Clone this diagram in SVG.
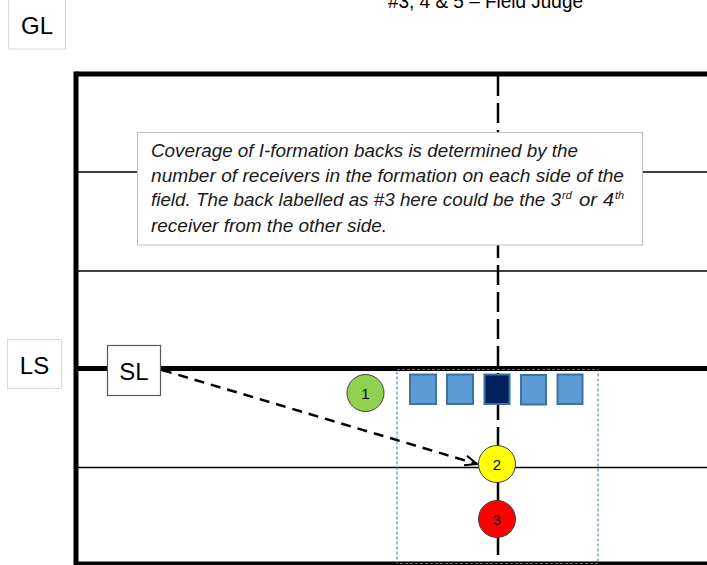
<svg xmlns="http://www.w3.org/2000/svg" width="707" height="565" viewBox="0 0 707 565">
  <defs>
    <style>
      .lbl { font-family: "Liberation Sans", Arial, sans-serif; fill: #000; }
      .tag { fill: #fff; stroke: #d9d9d9; stroke-width: 1; }
      .thick { stroke: #000; stroke-width: 5; fill: none; }
      .thin { stroke: #000; stroke-width: 1.6; fill: none; }
      .note { font-family: "Liberation Sans", Arial, sans-serif; font-style: italic; font-size: 17.5px; fill: #1a1a1a; }
      .sup { font-family: "Liberation Sans", Arial, sans-serif; font-style: italic; font-size: 11px; fill: #1a1a1a; }
      .lineman { fill: #5b9bd5; stroke: #41719c; stroke-width: 2; }
      .center { fill: #002060; stroke: #41719c; stroke-width: 2; }
      .back { stroke: #404040; stroke-width: 1; }
      .num { font-family: "Liberation Sans", Arial, sans-serif; font-size: 15px; fill: #000; text-anchor: middle; }
    </style>
    <marker id="openArrow" viewBox="0 0 14 12" refX="13" refY="6" markerWidth="14" markerHeight="12" markerUnits="userSpaceOnUse" orient="auto">
      <path d="M1,1 L13,6 L1,11" fill="none" stroke="#000" stroke-width="2" stroke-dasharray="none"/>
    </marker>
  </defs>

  <rect width="707" height="565" fill="#fff"/>

  <!-- caption, partly above the top edge -->
  <text class="lbl" x="388" y="7.5" font-size="20" textLength="195" lengthAdjust="spacingAndGlyphs">#3, 4 &amp; 5 – Field Judge</text>

  <!-- field markings -->
  <g id="field">
    <line class="thin" x1="76" y1="172" x2="707" y2="172"/>
    <line class="thin" x1="76" y1="271" x2="707" y2="271"/>
    <line class="thin" x1="76" y1="467.5" x2="707" y2="467.5" stroke-width="2"/>
    <line x1="498" y1="76" x2="498" y2="565" stroke="#000" stroke-width="2.5" stroke-dasharray="20 7"/>
    <line class="thick" x1="76" y1="74" x2="707" y2="74"/>
    <line class="thick" x1="76" y1="368.5" x2="707" y2="368.5"/>
    <line class="thick" x1="76" y1="564" x2="707" y2="564"/>
    <line class="thick" x1="76" y1="71.5" x2="76" y2="565"/>
  </g>

  <!-- line labels -->
  <g id="gl">
    <rect class="tag" x="8.5" y="-2" width="57" height="51"/>
    <text class="lbl" x="37" y="34" font-size="24" text-anchor="middle">GL</text>
  </g>
  <g id="ls">
    <rect class="tag" x="7.5" y="339.5" width="54" height="49"/>
    <text class="lbl" x="34.5" y="374" font-size="24" text-anchor="middle">LS</text>
  </g>

  <!-- explanatory note -->
  <g id="note">
    <rect x="137.5" y="132.5" width="505" height="112.5" fill="#fff" stroke="#bfbfbf" stroke-width="1"/>
    <text class="note" x="151" y="157" textLength="427" lengthAdjust="spacingAndGlyphs">Coverage of I-formation backs is determined by the</text>
    <text class="note" x="151" y="181.5" textLength="473" lengthAdjust="spacingAndGlyphs">number of receivers in the formation on each side of the</text>
    <text class="note" x="151" y="206" textLength="410" lengthAdjust="spacingAndGlyphs">field. The back labelled as #3 here could be the 3</text>
    <text class="sup" x="562" y="198.5">rd</text>
    <text class="note" x="579" y="206" textLength="35" lengthAdjust="spacingAndGlyphs">or 4</text>
    <text class="sup" x="615" y="198.5">th</text>
    <text class="note" x="151" y="232" textLength="236" lengthAdjust="spacingAndGlyphs">receiver from the other side.</text>
  </g>

  <!-- formation zone -->
  <rect id="zone" x="397" y="369.5" width="201" height="194" fill="none" stroke="#41719c" stroke-width="1" stroke-dasharray="3 2"/>

  <!-- offensive line -->
  <g id="line">
    <rect class="lineman" x="410" y="374.5" width="26" height="29.5"/>
    <rect class="lineman" x="447" y="374.5" width="26" height="29.5"/>
    <rect class="center" x="484.5" y="374.5" width="25" height="29.5"/>
    <rect class="lineman" x="521" y="375" width="25" height="29.5"/>
    <rect class="lineman" x="557.5" y="374.5" width="25" height="29.5"/>
  </g>

  <!-- backs -->
  <g id="back1">
    <circle class="back" cx="365.5" cy="393" r="18.5" fill="#92d050"/>
    <text class="num" x="365.5" y="398.5">1</text>
  </g>
  <g id="back2">
    <circle class="back" cx="497" cy="464" r="18.5" fill="#ffff00"/>
    <text class="num" x="497" y="469.5">2</text>
  </g>
  <g id="back3">
    <circle class="back" cx="497" cy="519" r="18.5" fill="#ff0000"/>
    <text class="num" x="497" y="524.5">3</text>
  </g>

  <!-- side judge -->
  <g id="sl">
    <rect x="107.5" y="345.5" width="53" height="50" fill="#fff" stroke="#595959" stroke-width="1.2"/>
    <text class="lbl" x="134" y="380" font-size="24" text-anchor="middle">SL</text>
  </g>

  <!-- connectors -->
  <g id="connectors">
    <line x1="162" y1="370" x2="477" y2="464" stroke="#000" stroke-width="2.5" stroke-dasharray="10 7" marker-end="url(#openArrow)"/>
  </g>
</svg>
